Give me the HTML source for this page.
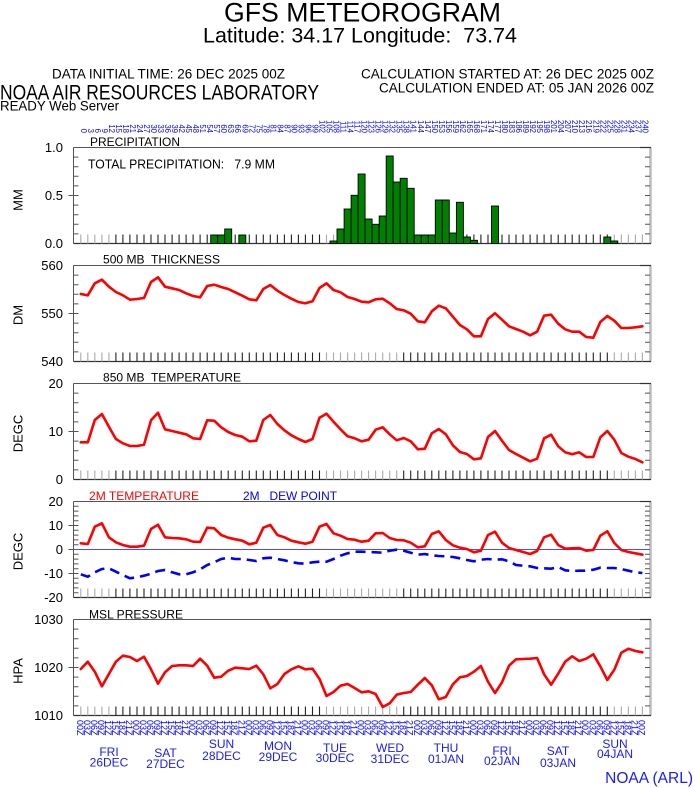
<!DOCTYPE html>
<html><head><meta charset="utf-8"><style>
html,body{margin:0;padding:0;background:#fff;width:694px;height:788px;overflow:hidden}
svg{display:block}
text{font-family:"Liberation Sans",Arial,sans-serif;white-space:pre}
</style></head><body>
<svg width="694" height="788" viewBox="0 0 694 788" xmlns="http://www.w3.org/2000/svg">
<defs>
<path id="tg" d="M80.8,-9v9M87.8,-9v9M94.8,-9v9M101.9,-9v9M108.9,-9v9M326.5,-9v9M333.5,-9v9M340.5,-9v9M347.6,-9v9M354.6,-9v9M361.6,-9v9M368.6,-9v9M375.6,-9v9M382.7,-9v9M389.7,-9v9M396.7,-9v9M614.3,-9v9M621.3,-9v9M628.4,-9v9M635.4,-9v9M642.4,-9v9" stroke="#aaa" stroke-width="1.1" fill="none"/>
<path id="td" d="M115.9,-9v9M122.9,-9v9M129.9,-9v9M137.0,-9v9M144.0,-9v9M151.0,-9v9M158.0,-9v9M165.0,-9v9M172.1,-9v9M179.1,-9v9M186.1,-9v9M193.1,-9v9M200.1,-9v9M207.2,-9v9M214.2,-9v9M221.2,-9v9M228.2,-9v9M235.2,-9v9M242.3,-9v9M249.3,-9v9M256.3,-9v9M263.3,-9v9M270.3,-9v9M277.4,-9v9M284.4,-9v9M291.4,-9v9M298.4,-9v9M305.4,-9v9M312.5,-9v9M319.5,-9v9M403.7,-9v9M410.7,-9v9M417.8,-9v9M424.8,-9v9M431.8,-9v9M438.8,-9v9M445.8,-9v9M452.9,-9v9M459.9,-9v9M466.9,-9v9M473.9,-9v9M480.9,-9v9M488.0,-9v9M495.0,-9v9M502.0,-9v9M509.0,-9v9M516.0,-9v9M523.1,-9v9M530.1,-9v9M537.1,-9v9M544.1,-9v9M551.1,-9v9M558.2,-9v9M565.2,-9v9M572.2,-9v9M579.2,-9v9M586.2,-9v9M593.3,-9v9M600.3,-9v9M607.3,-9v9" stroke="#222" stroke-width="1.1" fill="none"/>
<path id="lt10" d="M73.5,9.6h5M73.5,19.2h5M73.5,28.8h5M73.5,38.4h5M73.5,48h5M73.5,57.6h5M73.5,67.2h5M73.5,76.8h5M73.5,86.4h5M645,9.6h5M645,19.2h5M645,28.8h5M645,38.4h5M645,48h5M645,57.6h5M645,67.2h5M645,76.8h5M645,86.4h5" stroke="#555" stroke-width="1" fill="none"/>
<path id="lt20" d="M73.5,4.8h5M73.5,9.6h5M73.5,14.4h5M73.5,19.2h5M73.5,24h5M73.5,28.8h5M73.5,33.6h5M73.5,38.4h5M73.5,43.2h5M73.5,48h5M73.5,52.8h5M73.5,57.6h5M73.5,62.4h5M73.5,67.2h5M73.5,72h5M73.5,76.8h5M73.5,81.6h5M73.5,86.4h5M73.5,91.2h5M645,4.8h5M645,9.6h5M645,14.4h5M645,19.2h5M645,24h5M645,28.8h5M645,33.6h5M645,38.4h5M645,43.2h5M645,48h5M645,52.8h5M645,57.6h5M645,62.4h5M645,67.2h5M645,72h5M645,76.8h5M645,81.6h5M645,86.4h5M645,91.2h5" stroke="#555" stroke-width="1" fill="none"/>
<g id="frame">
<path d="M650.5,0V96" stroke="#bbb" stroke-width="2.5" fill="none"/>
<path d="M73.5,0H651M73.5,0V96" stroke="#555" stroke-width="1" fill="none"/>
<path d="M73.5,96H651" stroke="#333" stroke-width="1.3" fill="none"/>
<path d="M640,0H651" stroke="#333" stroke-width="1.2" fill="none"/>
</g>
</defs>

<!-- Header -->
<text x="224" y="21.5" font-size="27" textLength="277" lengthAdjust="spacingAndGlyphs">GFS METEOROGRAM</text>
<text x="203" y="42.7" font-size="21.5" textLength="314" lengthAdjust="spacingAndGlyphs">Latitude: 34.17 Longitude:  73.74</text>
<text x="52" y="78.3" font-size="13.5" textLength="233" lengthAdjust="spacingAndGlyphs">DATA INITIAL TIME: 26 DEC 2025 00Z</text>
<text x="361" y="78.3" font-size="13.5" textLength="293" lengthAdjust="spacingAndGlyphs">CALCULATION STARTED AT: 26 DEC 2025 00Z</text>
<text x="379" y="92.7" font-size="13.5" textLength="275" lengthAdjust="spacingAndGlyphs">CALCULATION ENDED AT: 05 JAN 2026 00Z</text>
<text x="0" y="99.5" font-size="21" textLength="319" lengthAdjust="spacingAndGlyphs">NOAA AIR RESOURCES LABORATORY</text>
<text x="0" y="110.3" font-size="13.5" textLength="119" lengthAdjust="spacingAndGlyphs">READY Web Server</text>

<!-- Top forecast-hour labels -->
<g font-size="7.8" fill="#0000ff" text-anchor="end">
<text transform="translate(80.8 133)rotate(90)">0</text><text transform="translate(87.8 133)rotate(90)">3</text><text transform="translate(94.8 133)rotate(90)">6</text><text transform="translate(101.9 133)rotate(90)">9</text><text transform="translate(108.9 133)rotate(90)">12</text><text transform="translate(115.9 133)rotate(90)">15</text><text transform="translate(122.9 133)rotate(90)">18</text><text transform="translate(129.9 133)rotate(90)">21</text><text transform="translate(137.0 133)rotate(90)">24</text><text transform="translate(144.0 133)rotate(90)">27</text><text transform="translate(151.0 133)rotate(90)">30</text><text transform="translate(158.0 133)rotate(90)">33</text><text transform="translate(165.0 133)rotate(90)">36</text><text transform="translate(172.1 133)rotate(90)">39</text><text transform="translate(179.1 133)rotate(90)">42</text><text transform="translate(186.1 133)rotate(90)">45</text><text transform="translate(193.1 133)rotate(90)">48</text><text transform="translate(200.1 133)rotate(90)">51</text><text transform="translate(207.2 133)rotate(90)">54</text><text transform="translate(214.2 133)rotate(90)">57</text><text transform="translate(221.2 133)rotate(90)">60</text><text transform="translate(228.2 133)rotate(90)">63</text><text transform="translate(235.2 133)rotate(90)">66</text><text transform="translate(242.3 133)rotate(90)">69</text><text transform="translate(249.3 133)rotate(90)">72</text><text transform="translate(256.3 133)rotate(90)">75</text><text transform="translate(263.3 133)rotate(90)">78</text><text transform="translate(270.3 133)rotate(90)">81</text><text transform="translate(277.4 133)rotate(90)">84</text><text transform="translate(284.4 133)rotate(90)">87</text><text transform="translate(291.4 133)rotate(90)">90</text><text transform="translate(298.4 133)rotate(90)">93</text><text transform="translate(305.4 133)rotate(90)">96</text><text transform="translate(312.5 133)rotate(90)">99</text><text transform="translate(319.5 133)rotate(90)">102</text><text transform="translate(326.5 133)rotate(90)">105</text><text transform="translate(333.5 133)rotate(90)">108</text><text transform="translate(340.5 133)rotate(90)">111</text><text transform="translate(347.6 133)rotate(90)">114</text><text transform="translate(354.6 133)rotate(90)">117</text><text transform="translate(361.6 133)rotate(90)">120</text><text transform="translate(368.6 133)rotate(90)">123</text><text transform="translate(375.6 133)rotate(90)">126</text><text transform="translate(382.7 133)rotate(90)">129</text><text transform="translate(389.7 133)rotate(90)">132</text><text transform="translate(396.7 133)rotate(90)">135</text><text transform="translate(403.7 133)rotate(90)">138</text><text transform="translate(410.7 133)rotate(90)">141</text><text transform="translate(417.8 133)rotate(90)">144</text><text transform="translate(424.8 133)rotate(90)">147</text><text transform="translate(431.8 133)rotate(90)">150</text><text transform="translate(438.8 133)rotate(90)">153</text><text transform="translate(445.8 133)rotate(90)">156</text><text transform="translate(452.9 133)rotate(90)">159</text><text transform="translate(459.9 133)rotate(90)">162</text><text transform="translate(466.9 133)rotate(90)">165</text><text transform="translate(473.9 133)rotate(90)">168</text><text transform="translate(480.9 133)rotate(90)">171</text><text transform="translate(488.0 133)rotate(90)">174</text><text transform="translate(495.0 133)rotate(90)">177</text><text transform="translate(502.0 133)rotate(90)">180</text><text transform="translate(509.0 133)rotate(90)">183</text><text transform="translate(516.0 133)rotate(90)">186</text><text transform="translate(523.1 133)rotate(90)">189</text><text transform="translate(530.1 133)rotate(90)">192</text><text transform="translate(537.1 133)rotate(90)">195</text><text transform="translate(544.1 133)rotate(90)">198</text><text transform="translate(551.1 133)rotate(90)">201</text><text transform="translate(558.2 133)rotate(90)">204</text><text transform="translate(565.2 133)rotate(90)">207</text><text transform="translate(572.2 133)rotate(90)">210</text><text transform="translate(579.2 133)rotate(90)">213</text><text transform="translate(586.2 133)rotate(90)">216</text><text transform="translate(593.3 133)rotate(90)">219</text><text transform="translate(600.3 133)rotate(90)">222</text><text transform="translate(607.3 133)rotate(90)">225</text><text transform="translate(614.3 133)rotate(90)">228</text><text transform="translate(621.3 133)rotate(90)">231</text><text transform="translate(628.4 133)rotate(90)">234</text><text transform="translate(635.4 133)rotate(90)">237</text><text transform="translate(642.4 133)rotate(90)">240</text>
</g>

<!-- Panel frames & ticks -->
<use href="#frame" y="147.5"/><use href="#frame" y="265.5"/><use href="#frame" y="383.5"/><use href="#frame" y="501.5"/><use href="#frame" y="619.5"/>
<use href="#lt10" y="147.5"/><use href="#lt10" y="265.5"/><use href="#lt10" y="383.5"/><use href="#lt20" y="501.5"/><use href="#lt10" y="619.5"/>
<use href="#tg" y="243.5"/><use href="#td" y="243.5"/>
<use href="#tg" y="361.5"/><use href="#td" y="361.5"/>
<use href="#tg" y="479.5"/><use href="#td" y="479.5"/>
<use href="#tg" y="597.5"/><use href="#td" y="597.5"/>
<use href="#tg" y="715.5"/><use href="#td" y="715.5"/>
<path d="M68.5,195.5h5M68.5,313.5h5M68.5,431.5h5M68.5,525.5h5M68.5,549.5h5M68.5,573.5h5M68.5,667.5h5" stroke="#555" stroke-width="1"/>

<!-- Y labels -->
<g font-size="13" text-anchor="end" fill="#000">
<text x="63" y="152">1.0</text><text x="63" y="200">0.5</text><text x="63" y="248">0.0</text>
<text x="63" y="270">560</text><text x="63" y="318">550</text><text x="63" y="366">540</text>
<text x="63" y="388">20</text><text x="63" y="436">10</text><text x="63" y="484">0</text>
<text x="63" y="506">20</text><text x="63" y="530">10</text><text x="63" y="554">0</text><text x="63" y="578">-10</text><text x="63" y="602">-20</text>
<text x="63" y="624">1030</text><text x="63" y="672">1020</text><text x="63" y="720">1010</text>
</g>
<g font-size="13" text-anchor="middle">
<text transform="translate(22.5 200)rotate(-90)">MM</text>
<text transform="translate(22.5 315)rotate(-90)">DM</text>
<text transform="translate(22.5 433.5)rotate(-90)">DEGC</text>
<text transform="translate(22.5 551.5)rotate(-90)">DEGC</text>
<text transform="translate(22.5 671)rotate(-90)">HPA</text>
</g>

<!-- Panel titles -->
<g font-size="12">
<text x="90" y="146" textLength="90" lengthAdjust="spacingAndGlyphs">PRECIPITATION</text>
<text x="88" y="168.3" font-size="13" textLength="187" lengthAdjust="spacingAndGlyphs">TOTAL PRECIPITATION:   7.9 MM</text>
<text x="103" y="263.3" textLength="117" lengthAdjust="spacingAndGlyphs">500 MB  THICKNESS</text>
<text x="103" y="381.7" textLength="138" lengthAdjust="spacingAndGlyphs">850 MB  TEMPERATURE</text>
<text x="89" y="500" fill="#ff0000" textLength="110" lengthAdjust="spacingAndGlyphs">2M TEMPERATURE</text>
<text x="243" y="500" fill="#0000ff" textLength="94" lengthAdjust="spacingAndGlyphs">2M   DEW POINT</text>
<text x="89" y="618.3" textLength="94" lengthAdjust="spacingAndGlyphs">MSL PRESSURE</text>
</g>

<!-- Precipitation bars -->
<g fill="#008000" stroke="#000" stroke-width="0.9">
<rect x="210.7" y="235" width="7" height="8.5"/>
<rect x="217.7" y="235" width="7" height="8.5"/>
<rect x="224.7" y="229" width="7" height="14.5"/>
<rect x="238.8" y="235" width="7" height="8.5"/>
<rect x="330.0" y="241" width="7" height="2.5"/>
<rect x="337.0" y="229" width="7" height="14.5"/>
<rect x="344.1" y="209" width="7" height="34.5"/>
<rect x="351.1" y="195.3" width="7" height="48.2"/>
<rect x="358.1" y="174" width="7" height="69.5"/>
<rect x="365.1" y="219" width="7" height="24.5"/>
<rect x="372.1" y="224.3" width="7" height="19.2"/>
<rect x="379.2" y="216" width="7" height="27.5"/>
<rect x="386.2" y="156" width="7" height="87.5"/>
<rect x="393.2" y="182" width="7" height="61.5"/>
<rect x="400.2" y="178.3" width="7" height="65.2"/>
<rect x="407.2" y="188.3" width="7" height="55.2"/>
<rect x="414.3" y="235" width="7" height="8.5"/>
<rect x="421.3" y="235" width="7" height="8.5"/>
<rect x="428.3" y="235" width="7" height="8.5"/>
<rect x="435.3" y="200" width="7" height="43.5"/>
<rect x="442.3" y="200" width="7" height="43.5"/>
<rect x="449.4" y="233" width="7" height="10.5"/>
<rect x="456.4" y="202.3" width="7" height="41.2"/>
<rect x="463.4" y="237" width="7" height="6.5"/>
<rect x="470.4" y="240.3" width="7" height="3.2"/>
<rect x="491.5" y="206" width="7" height="37.5"/>
<rect x="603.8" y="237" width="7" height="6.5"/>
<rect x="610.8" y="241" width="7" height="2.5"/>
</g>

<!-- zero line -->
<path d="M73.5,549.5H650" stroke="#4a4aff" stroke-width="1"/>

<!-- Series -->
<g fill="none" stroke="#ff0000" stroke-width="2.6" stroke-linejoin="round" stroke-linecap="round">
<polyline points="80.8,294.0 87.8,295.3 94.8,283.3 101.9,279.7 108.9,286.7 115.9,292.0 122.9,295.3 129.9,299.7 137.0,299.0 144.0,298.0 151.0,282.0 158.0,277.3 165.0,286.7 172.1,288.3 179.1,290.0 186.1,293.3 193.1,296.0 200.1,297.3 207.2,286.0 214.2,284.7 221.2,287.0 228.2,289.0 235.2,292.3 242.3,295.7 249.3,299.3 256.3,300.3 263.3,289.0 270.3,285.0 277.4,290.7 284.4,295.0 291.4,298.7 298.4,302.0 305.4,303.3 312.5,301.3 319.5,288.0 326.5,283.3 333.5,290.0 340.5,292.3 347.6,297.0 354.6,299.0 361.6,301.7 368.6,302.3 375.6,299.3 382.7,298.7 389.7,303.3 396.7,309.0 403.7,310.3 410.7,313.7 417.8,321.3 424.8,322.3 431.8,311.3 438.8,305.7 445.8,308.3 452.9,316.7 459.9,325.0 466.9,329.3 473.9,336.3 480.9,336.3 488.0,319.0 495.0,313.3 502.0,319.7 509.0,326.3 516.0,329.0 523.1,331.7 530.1,335.3 537.1,331.7 544.1,315.7 551.1,314.7 558.2,323.7 565.2,329.3 572.2,331.7 579.2,331.7 586.2,337.0 593.3,337.7 600.3,322.0 607.3,316.0 614.3,320.7 621.3,328.0 628.4,328.0 635.4,327.3 642.4,326.3"/>
<polyline points="80.8,442.3 87.8,442.3 94.8,420.0 101.9,414.0 108.9,426.7 115.9,439.0 122.9,443.3 129.9,446.0 137.0,446.0 144.0,444.7 151.0,420.3 158.0,412.7 165.0,429.3 172.1,431.0 179.1,432.7 186.1,434.3 193.1,438.3 200.1,439.0 207.2,420.3 214.2,420.7 221.2,427.3 228.2,432.0 235.2,435.0 242.3,436.7 249.3,441.3 256.3,440.7 263.3,420.0 270.3,415.0 277.4,424.0 284.4,430.3 291.4,435.3 298.4,439.0 305.4,442.0 312.5,439.0 319.5,417.7 326.5,413.7 333.5,421.7 340.5,429.3 347.6,436.3 354.6,438.3 361.6,441.3 368.6,439.7 375.6,429.7 382.7,427.3 389.7,434.3 396.7,440.3 403.7,438.0 410.7,441.3 417.8,449.3 424.8,448.7 431.8,433.3 438.8,429.0 445.8,434.3 452.9,445.3 459.9,452.0 466.9,454.0 473.9,459.3 480.9,458.3 488.0,437.0 495.0,431.0 502.0,440.7 509.0,450.0 516.0,454.0 523.1,457.7 530.1,461.3 537.1,458.7 544.1,438.3 551.1,434.7 558.2,446.3 565.2,452.3 572.2,454.3 579.2,452.3 586.2,457.0 593.3,457.0 600.3,437.3 607.3,431.0 614.3,439.7 621.3,453.0 628.4,456.7 635.4,459.0 642.4,462.3"/>
<polyline points="80.8,543.3 87.8,544.0 94.8,526.7 101.9,523.3 108.9,537.3 115.9,542.3 122.9,545.0 129.9,546.7 137.0,546.7 144.0,545.7 151.0,529.0 158.0,524.7 165.0,537.3 172.1,538.0 179.1,538.3 186.1,539.3 193.1,541.7 200.1,542.0 207.2,527.7 214.2,528.3 221.2,535.0 228.2,537.7 235.2,539.3 242.3,540.7 249.3,544.3 256.3,542.7 263.3,527.7 270.3,525.0 277.4,535.0 284.4,537.3 291.4,540.7 298.4,542.3 305.4,543.7 312.5,541.7 319.5,526.7 326.5,524.0 333.5,533.3 340.5,535.7 347.6,539.0 354.6,539.7 361.6,541.7 368.6,540.7 375.6,533.3 382.7,533.0 389.7,538.0 396.7,540.0 403.7,540.3 410.7,542.7 417.8,547.3 424.8,546.3 431.8,534.0 438.8,531.3 445.8,540.0 452.9,545.3 459.9,547.7 466.9,549.0 473.9,552.3 480.9,550.7 488.0,535.0 495.0,531.7 502.0,542.7 509.0,548.0 516.0,550.0 523.1,552.0 530.1,554.0 537.1,551.0 544.1,537.3 551.1,534.7 558.2,545.0 565.2,548.7 572.2,548.3 579.2,548.0 586.2,550.7 593.3,550.0 600.3,535.7 607.3,531.3 614.3,543.0 621.3,550.0 628.4,552.0 635.4,553.3 642.4,554.7"/>
<polyline points="80.8,669.0 87.8,661.7 94.8,671.7 101.9,686.3 108.9,674.0 115.9,661.7 122.9,655.7 129.9,657.0 137.0,661.0 144.0,656.7 151.0,669.3 158.0,683.7 165.0,672.3 172.1,666.0 179.1,665.3 186.1,665.3 193.1,666.0 200.1,658.7 207.2,665.7 214.2,677.7 221.2,676.7 228.2,670.7 235.2,667.7 242.3,668.3 249.3,669.0 256.3,665.7 263.3,674.3 270.3,688.3 277.4,684.0 284.4,674.0 291.4,669.3 298.4,666.3 305.4,669.3 312.5,668.7 319.5,679.0 326.5,696.0 333.5,692.0 340.5,685.7 347.6,684.0 354.6,688.0 361.6,692.3 368.6,691.3 375.6,694.0 382.7,707.0 389.7,703.3 396.7,694.7 403.7,693.0 410.7,692.0 417.8,684.7 424.8,678.0 431.8,685.3 438.8,699.3 445.8,697.0 452.9,684.3 459.9,677.3 466.9,676.0 473.9,671.7 480.9,666.0 488.0,681.7 495.0,693.0 502.0,682.3 509.0,665.7 516.0,659.3 523.1,659.0 530.1,658.7 537.1,658.0 544.1,674.3 551.1,684.7 558.2,673.7 565.2,661.7 572.2,656.3 579.2,661.0 586.2,658.7 593.3,654.3 600.3,666.3 607.3,680.0 614.3,669.7 621.3,652.7 628.4,648.7 635.4,651.0 642.4,652.3"/>
</g>
<polyline fill="none" stroke="#0000ff" stroke-width="2.6" stroke-dasharray="10 6" points="80.8,574.3 87.8,576.7 94.8,572.3 101.9,569.0 108.9,568.3 115.9,571.7 122.9,575.0 129.9,578.3 137.0,577.3 144.0,575.7 151.0,573.7 158.0,571.0 165.0,570.0 172.1,572.3 179.1,574.3 186.1,574.3 193.1,572.3 200.1,569.3 207.2,565.0 214.2,562.3 221.2,559.0 228.2,557.7 235.2,559.0 242.3,559.0 249.3,560.0 256.3,561.0 263.3,558.3 270.3,557.7 277.4,559.0 284.4,560.3 291.4,562.0 298.4,563.3 305.4,563.7 312.5,562.3 319.5,561.7 326.5,561.7 333.5,559.0 340.5,555.7 347.6,553.3 354.6,551.7 361.6,551.7 368.6,552.0 375.6,552.3 382.7,552.7 389.7,550.7 396.7,549.7 403.7,550.7 410.7,552.7 417.8,554.7 424.8,554.0 431.8,555.3 438.8,556.0 445.8,556.3 452.9,557.0 459.9,558.3 466.9,560.0 473.9,561.3 480.9,559.7 488.0,559.0 495.0,559.7 502.0,559.3 509.0,561.3 516.0,565.0 523.1,565.7 530.1,566.3 537.1,568.0 544.1,568.3 551.1,568.7 558.2,567.0 565.2,570.3 572.2,571.0 579.2,570.7 586.2,570.7 593.3,569.7 600.3,567.7 607.3,568.0 614.3,568.0 621.3,569.0 628.4,570.7 635.4,572.3 642.4,573.0"/>

<!-- Bottom time labels -->
<g font-size="9" fill="#0000ff">
<text transform="translate(76.8 720)rotate(90)">00Z</text><text transform="translate(83.8 720)rotate(90)">03Z</text><text transform="translate(90.8 720)rotate(90)">06Z</text><text transform="translate(97.9 720)rotate(90)">09Z</text><text transform="translate(104.9 720)rotate(90)">12Z</text><text transform="translate(111.9 720)rotate(90)">15Z</text><text transform="translate(118.9 720)rotate(90)">18Z</text><text transform="translate(125.9 720)rotate(90)">21Z</text>
<text transform="translate(133.0 720)rotate(90)">00Z</text><text transform="translate(140.0 720)rotate(90)">03Z</text><text transform="translate(147.0 720)rotate(90)">06Z</text><text transform="translate(154.0 720)rotate(90)">09Z</text><text transform="translate(161.0 720)rotate(90)">12Z</text><text transform="translate(168.1 720)rotate(90)">15Z</text><text transform="translate(175.1 720)rotate(90)">18Z</text><text transform="translate(182.1 720)rotate(90)">21Z</text>
<text transform="translate(189.1 720)rotate(90)">00Z</text><text transform="translate(196.1 720)rotate(90)">03Z</text><text transform="translate(203.2 720)rotate(90)">06Z</text><text transform="translate(210.2 720)rotate(90)">09Z</text><text transform="translate(217.2 720)rotate(90)">12Z</text><text transform="translate(224.2 720)rotate(90)">15Z</text><text transform="translate(231.2 720)rotate(90)">18Z</text><text transform="translate(238.3 720)rotate(90)">21Z</text>
<text transform="translate(245.3 720)rotate(90)">00Z</text><text transform="translate(252.3 720)rotate(90)">03Z</text><text transform="translate(259.3 720)rotate(90)">06Z</text><text transform="translate(266.3 720)rotate(90)">09Z</text><text transform="translate(273.4 720)rotate(90)">12Z</text><text transform="translate(280.4 720)rotate(90)">15Z</text><text transform="translate(287.4 720)rotate(90)">18Z</text><text transform="translate(294.4 720)rotate(90)">21Z</text>
<text transform="translate(301.4 720)rotate(90)">00Z</text><text transform="translate(308.5 720)rotate(90)">03Z</text><text transform="translate(315.5 720)rotate(90)">06Z</text><text transform="translate(322.5 720)rotate(90)">09Z</text><text transform="translate(329.5 720)rotate(90)">12Z</text><text transform="translate(336.5 720)rotate(90)">15Z</text><text transform="translate(343.6 720)rotate(90)">18Z</text><text transform="translate(350.6 720)rotate(90)">21Z</text>
<text transform="translate(357.6 720)rotate(90)">00Z</text><text transform="translate(364.6 720)rotate(90)">03Z</text><text transform="translate(371.6 720)rotate(90)">06Z</text><text transform="translate(378.7 720)rotate(90)">09Z</text><text transform="translate(385.7 720)rotate(90)">12Z</text><text transform="translate(392.7 720)rotate(90)">15Z</text><text transform="translate(399.7 720)rotate(90)">18Z</text><text transform="translate(406.7 720)rotate(90)">21Z</text>
<text transform="translate(413.8 720)rotate(90)">00Z</text><text transform="translate(420.8 720)rotate(90)">03Z</text><text transform="translate(427.8 720)rotate(90)">06Z</text><text transform="translate(434.8 720)rotate(90)">09Z</text><text transform="translate(441.8 720)rotate(90)">12Z</text><text transform="translate(448.9 720)rotate(90)">15Z</text><text transform="translate(455.9 720)rotate(90)">18Z</text><text transform="translate(462.9 720)rotate(90)">21Z</text>
<text transform="translate(469.9 720)rotate(90)">00Z</text><text transform="translate(476.9 720)rotate(90)">03Z</text><text transform="translate(484.0 720)rotate(90)">06Z</text><text transform="translate(491.0 720)rotate(90)">09Z</text><text transform="translate(498.0 720)rotate(90)">12Z</text><text transform="translate(505.0 720)rotate(90)">15Z</text><text transform="translate(512.0 720)rotate(90)">18Z</text><text transform="translate(519.1 720)rotate(90)">21Z</text>
<text transform="translate(526.1 720)rotate(90)">00Z</text><text transform="translate(533.1 720)rotate(90)">03Z</text><text transform="translate(540.1 720)rotate(90)">06Z</text><text transform="translate(547.1 720)rotate(90)">09Z</text><text transform="translate(554.2 720)rotate(90)">12Z</text><text transform="translate(561.2 720)rotate(90)">15Z</text><text transform="translate(568.2 720)rotate(90)">18Z</text><text transform="translate(575.2 720)rotate(90)">21Z</text>
<text transform="translate(582.2 720)rotate(90)">00Z</text><text transform="translate(589.3 720)rotate(90)">03Z</text><text transform="translate(596.3 720)rotate(90)">06Z</text><text transform="translate(603.3 720)rotate(90)">09Z</text><text transform="translate(610.3 720)rotate(90)">12Z</text><text transform="translate(617.3 720)rotate(90)">15Z</text><text transform="translate(624.4 720)rotate(90)">18Z</text><text transform="translate(631.4 720)rotate(90)">21Z</text>
<text transform="translate(638.4 720)rotate(90)">00Z</text>
</g>

<!-- Day labels -->
<g font-size="12" fill="#1a1aff" text-anchor="middle">
<text x="109" y="756">FRI</text><text x="109" y="766.5">26DEC</text>
<text x="165.5" y="757">SAT</text><text x="165.5" y="768">27DEC</text>
<text x="221.5" y="748">SUN</text><text x="221.5" y="760">28DEC</text>
<text x="278" y="750">MON</text><text x="278" y="761">29DEC</text>
<text x="335" y="752">TUE</text><text x="335" y="762">30DEC</text>
<text x="390" y="752">WED</text><text x="390" y="763">31DEC</text>
<text x="446" y="752">THU</text><text x="446" y="763">01JAN</text>
<text x="502" y="755">FRI</text><text x="502" y="765">02JAN</text>
<text x="558" y="755">SAT</text><text x="558" y="767">03JAN</text>
<text x="615" y="748">SUN</text><text x="615" y="758">04JAN</text>
</g>
<text x="693" y="783" font-size="15.5" fill="#1a1aff" text-anchor="end">NOAA (ARL)</text>
</svg>
</body></html>
